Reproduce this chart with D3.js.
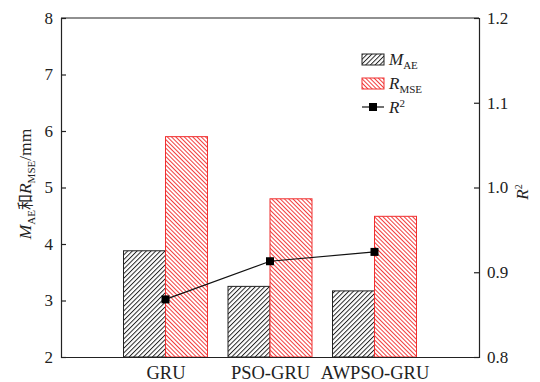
<!DOCTYPE html>
<html>
<head>
<meta charset="utf-8">
<script src="https://cdn.jsdelivr.net/npm/d3@7"></script>
<style>
  body { margin: 0; background: #fff; }
  text { font-family: "Liberation Serif", "Times New Roman", serif; }
</style>
</head>
<body>
<svg id="chart" width="540" height="382"></svg>
<script>
// data
var models = ["GRU", "PSO-GRU", "AWPSO-GRU"];
var maeValues = [3.88, 3.25, 3.17];
var rmseValues = [5.9, 4.8, 4.49];
var r2Values = [0.868, 0.913, 0.924];
var leftTicks = [2, 3, 4, 5, 6, 7, 8];
var rightTicks = [0.8, 0.9, 1.0, 1.1, 1.2];

var svg = d3.select("#chart");
var margin = {left: 61, right: 61, top: 18, bottom: 25};
var W = 540, H = 382;
var x0 = margin.left, x1 = W - margin.right;
var y0 = H - margin.bottom, y1 = margin.top;

var x = d3.scaleLinear().domain([0, 4]).range([x0, x1]);
var yL = d3.scaleLinear().domain([2, 8]).range([y0, y1]);
var yR = d3.scaleLinear().domain([0.8, 1.2]).range([y0, y1]);
var barW = 42;

// hatch patterns
var defs = svg.append("defs");
function hatch(id, color, dir, gap) {
  var p = defs.append("pattern").attr("id", id)
    .attr("patternUnits", "userSpaceOnUse")
    .attr("width", gap).attr("height", gap)
    .attr("patternTransform", "rotate(" + dir + ")");
  p.append("rect").attr("width", gap).attr("height", gap).attr("fill", "#fff");
  p.append("line").attr("x1", 0.5).attr("y1", 0).attr("x2", 0.5).attr("y2", gap)
    .attr("stroke", color).attr("stroke-width", 0.9);
}
hatch("hatchBlack", "#111", 45, 3.3);
hatch("hatchRed", "#f02828", -45, 3.0);

// bars
svg.selectAll(".mae").data(maeValues).enter().append("rect")
  .attr("x", function(d, i) { return x(i + 1) - barW; })
  .attr("y", function(d) { return yL(d); })
  .attr("width", barW)
  .attr("height", function(d) { return yL(2) - yL(d); })
  .attr("fill", "url(#hatchBlack)").attr("stroke", "#222").attr("stroke-width", 1);

svg.selectAll(".rmse").data(rmseValues).enter().append("rect")
  .attr("x", function(d, i) { return x(i + 1); })
  .attr("y", function(d) { return yL(d); })
  .attr("width", barW)
  .attr("height", function(d) { return yL(2) - yL(d); })
  .attr("fill", "url(#hatchRed)").attr("stroke", "#f03030").attr("stroke-width", 1);

// R2 line
var line = d3.line()
  .x(function(d, i) { return x(i + 1); })
  .y(function(d) { return yR(d); });
svg.append("path").datum(r2Values).attr("d", line)
  .attr("fill", "none").attr("stroke", "#111").attr("stroke-width", 1.2);
svg.selectAll(".pt").data(r2Values).enter().append("rect")
  .attr("x", function(d, i) { return x(i + 1) - 4; })
  .attr("y", function(d) { return yR(d) - 4; })
  .attr("width", 8).attr("height", 8).attr("fill", "#000");

// axes
var gL = svg.append("g").attr("transform", "translate(" + x0 + ",0)")
  .call(d3.axisRight(yL).tickValues(leftTicks).tickSize(5).tickFormat(d3.format("d")));
gL.selectAll("text").attr("x", -8).attr("text-anchor", "end");
var gR = svg.append("g").attr("transform", "translate(" + x1 + ",0)")
  .call(d3.axisLeft(yR).tickValues(rightTicks).tickSize(5).tickFormat(d3.format(".1f")));
gR.selectAll("text").attr("x", 8).attr("text-anchor", "start");
var gB = svg.append("g").attr("transform", "translate(0," + y0 + ")")
  .call(d3.axisBottom(x).tickValues([1, 2, 3]).tickSize(0)
    .tickFormat(function(d) { return models[d - 1]; }));
gB.selectAll("text").attr("dy", "1.05em");
svg.append("line").attr("x1", x0).attr("x2", x1).attr("y1", y1).attr("y2", y1)
  .attr("stroke", "#222").attr("stroke-width", 1.2);

[gL, gR, gB].forEach(function(g) {
  g.select(".domain").attr("stroke", "#222").attr("stroke-width", 1.2);
  g.selectAll(".tick line").attr("stroke", "#222").attr("stroke-width", 1.2);
  g.selectAll("text").attr("font-size", 17).attr("fill", "#222")
    .attr("font-family", "Liberation Serif, serif");
});
gB.selectAll("text").attr("font-size", 18.5);

// axis titles
var tL = svg.append("text").attr("transform", "translate(31,184) rotate(-90)")
  .attr("text-anchor", "middle").attr("font-size", 17.5).attr("fill", "#222");
tL.append("tspan").attr("font-style", "italic").text("M");
tL.append("tspan").attr("font-size", 11).attr("dy", 4).text("AE");
tL.append("tspan").attr("dy", -4).attr("font-family", "Noto Sans CJK SC").attr("font-size", 16).text("和");
tL.append("tspan").attr("font-style", "italic").text("R");
tL.append("tspan").attr("font-size", 11).attr("dy", 4).text("MSE");
tL.append("tspan").attr("dy", -4).text("/mm");

var tR = svg.append("text").attr("transform", "translate(528,192) rotate(-90)")
  .attr("text-anchor", "middle").attr("font-size", 17).attr("fill", "#222");
tR.append("tspan").attr("font-style", "italic").text("R");
tR.append("tspan").attr("font-size", 10).attr("dy", -6).text("2");

// legend
var lg = svg.append("g").attr("transform", "translate(362,54)");
lg.append("rect").attr("x", 0).attr("y", 0).attr("width", 22).attr("height", 11)
  .attr("fill", "url(#hatchBlack)").attr("stroke", "#222");
lg.append("rect").attr("x", 0).attr("y", 24).attr("width", 22).attr("height", 11)
  .attr("fill", "url(#hatchRed)").attr("stroke", "#f03030");
lg.append("line").attr("x1", 0).attr("x2", 22).attr("y1", 53).attr("y2", 53)
  .attr("stroke", "#111").attr("stroke-width", 1.2);
lg.append("rect").attr("x", 7).attr("y", 49).attr("width", 8).attr("height", 8).attr("fill", "#000");

function legendText(yy, main, sub, sup) {
  var t = lg.append("text").attr("x", 27).attr("y", yy).attr("font-size", 17).attr("fill", "#222");
  t.append("tspan").attr("font-style", "italic").text(main);
  if (sub) t.append("tspan").attr("font-size", 11).attr("dy", 4).text(sub);
  if (sup) t.append("tspan").attr("font-size", 11).attr("dy", -6).text(sup);
}
legendText(11, "M", "AE");
legendText(35, "R", "MSE");
legendText(59, "R", null, "2");
</script>
</body>
</html>
